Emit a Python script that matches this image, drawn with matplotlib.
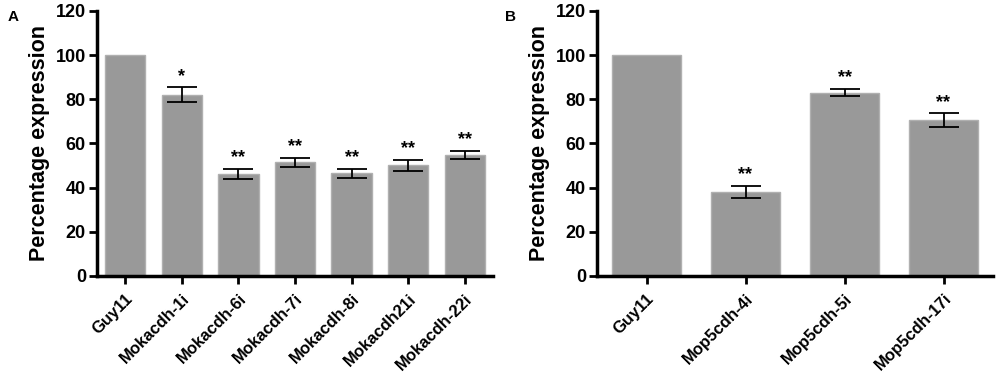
import numpy as np
import matplotlib.pyplot as plt

plt.rcParams['font.family'] = ['Liberation Sans', 'DejaVu Sans']
plt.rcParams['font.weight'] = 'bold'

labels_a = ['Guy11', 'Mokacdh-1i', 'Mokacdh-6i', 'Mokacdh-7i', 'Mokacdh-8i', 'Mokacdh21i', 'Mokacdh-22i']
values_a = [100, 82.0, 46.2, 51.5, 46.5, 50.1, 54.8]
errors_a = [0, 3.3, 2.4, 2.1, 2.1, 2.5, 1.7]
stars_a = ['', '*', '**', '**', '**', '**', '**']

labels_b = ['Guy11', 'Mop5cdh-4i', 'Mop5cdh-5i', 'Mop5cdh-17i']
values_b = [100, 37.9, 83.0, 70.6]
errors_b = [0, 2.8, 1.6, 3.0]
stars_b = ['', '**', '**', '**']

fig = plt.figure(figsize=(10, 3.87), dpi=100)
ax_a = fig.add_axes([0.097, 0.287, 0.396, 0.685])
ax_b = fig.add_axes([0.597, 0.287, 0.396, 0.685])


def draw(ax, labels, values, errors, stars, width):
    x = np.arange(len(labels))
    ax.bar(x, values, width=width, color='#999999', edgecolor='#b0b0b0', linewidth=1, zorder=2)
    for xi, v, e in zip(x, values, errors):
        if e > 0:
            ax.errorbar(xi, v, yerr=e, fmt='none', ecolor='black', elinewidth=1.3,
                        capsize=11, capthick=1.3, zorder=3)
    for xi, v, e, s in zip(x, values, errors, stars):
        if s:
            ax.text(xi, v + e + 1.2, s, ha='center', va='bottom', fontsize=13, fontweight='bold')
    ax.set_xlim(-0.5, len(labels) - 0.5)
    ax.set_ylim(0, 120)
    ax.set_yticks([0, 20, 40, 60, 80, 100, 120])
    ax.set_xticks(x)
    ax.set_xticklabels(labels, rotation=45, ha='right', rotation_mode='anchor',
                       fontsize=12, fontweight='bold')
    ax.tick_params(axis='y', labelsize=13, width=2, length=6, pad=2)
    ax.tick_params(axis='x', width=2, length=6, pad=5)
    for t in ax.get_yticklabels():
        t.set_fontweight('bold')
    ax.spines['top'].set_visible(False)
    ax.spines['right'].set_visible(False)
    ax.spines['left'].set_linewidth(2.5)
    ax.spines['bottom'].set_linewidth(2.5)
    ax.set_ylabel('Percentage expression', fontsize=15.5, fontweight='bold', labelpad=4)


draw(ax_a, labels_a, values_a, errors_a, stars_a, 0.71)
draw(ax_b, labels_b, values_b, errors_b, stars_b, 0.70)

fig.text(0.008, 0.975, 'A', fontsize=11, fontweight='bold', va='top')
fig.text(0.505, 0.975, 'B', fontsize=11, fontweight='bold', va='top')

fig.savefig('out.png', dpi=100)
